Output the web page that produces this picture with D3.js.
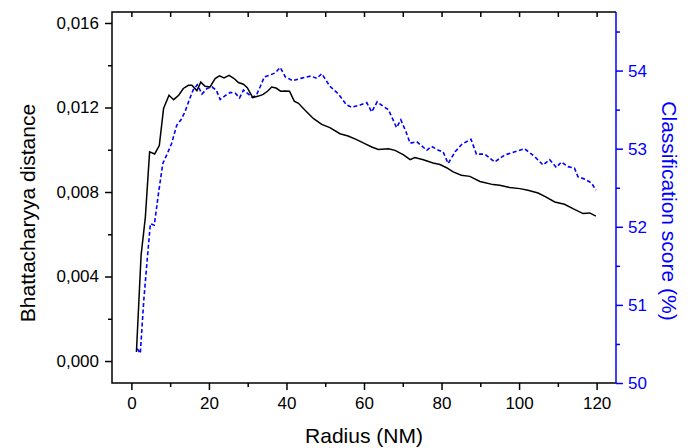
<!DOCTYPE html>
<html>
<head>
<meta charset="utf-8">
<script src="https://cdn.jsdelivr.net/npm/d3@7"></script>
<style>
  body { margin: 0; background: #fff; }
  text { font-family: "Liberation Sans", Arial, sans-serif; }
</style>
</head>
<body>
<div id="chart"></div>
<script>
// Bhattacharyya distance (left axis, black solid)
const radiusBD = [1.3, 2.5, 3.6, 4.7, 6.0, 7.2, 8.3, 9.7, 10.9, 12.2, 13.4, 14.7, 15.6, 16.9, 17.9, 19.0,
  20.3, 21.6, 22.7, 23.9, 25.2, 26.5, 27.6, 28.9, 29.9, 31.3, 32.8, 34.0, 35.1, 36.2, 37.3, 38.5,
  39.6, 40.8, 42.0, 43.1, 44.8, 47.0, 49.1, 51.2, 53.8, 55.9, 58.1, 60.2, 62.0, 63.7, 66.3, 68.0,
  70.1, 71.9, 73.1, 75.3, 77.8, 79.6, 81.3, 83.0, 85.1, 87.3, 89.9, 93.3, 95.0, 97.6, 100.2, 102.3,
  104.9, 107.0, 109.2, 111.7, 113.9, 116.5, 118.2, 119.8]
const bhattacharyya = [0.00043, 0.0050, 0.0068, 0.0099, 0.0098, 0.0102, 0.01195, 0.01258, 0.01237, 0.01258,
  0.0129, 0.01305, 0.01305, 0.0128, 0.0132, 0.0130, 0.01297, 0.01337, 0.0135, 0.0134, 0.01352, 0.01337,
  0.01318, 0.0131, 0.01294, 0.01247, 0.01254, 0.01262, 0.01277, 0.01297, 0.01292, 0.01277, 0.01278,
  0.01277, 0.0123, 0.0122, 0.01187, 0.01147, 0.0112, 0.01105, 0.01076, 0.01065, 0.01048, 0.01029,
  0.01013, 0.01001, 0.01005, 0.00997, 0.00977, 0.00953, 0.00963, 0.00953, 0.00937, 0.0093, 0.00915,
  0.00895, 0.00879, 0.00874, 0.0085, 0.00835, 0.00832, 0.00821, 0.00816, 0.00808, 0.00795, 0.00776,
  0.00753, 0.00742, 0.00721, 0.00698, 0.00701, 0.00686]

// Classification score (right axis, blue dashed)
const radiusCS = [1.5, 2.3, 3.2, 4.0, 4.9, 5.9, 7.0, 8.1, 9.3, 10.4, 11.7, 12.8, 13.8, 14.9, 15.9, 17.0,
  18.2, 19.5, 20.8, 21.9, 22.9, 24.2, 25.5, 26.8, 27.9, 28.9, 29.9, 31.1, 32.2, 33.2, 34.3, 35.6,
  37.1, 38.4, 39.7, 41.6, 43.7, 46.3, 47.8, 49.1, 51.2, 53.4, 55.5, 56.8, 59.0, 60.7, 62.0, 63.4,
  65.0, 66.3, 68.4, 69.5, 70.8, 71.9, 73.6, 76.2, 77.4, 79.2, 80.4, 81.7, 83.5, 85.3, 87.6, 89.0,
  91.2, 93.7, 96.3, 98.9, 101.4, 104.0, 106.2, 107.9, 109.6, 110.9, 112.6, 114.3, 115.2, 117.0,
  118.7, 119.8]
const classScore = [50.44, 50.38, 51.06, 51.53, 52.04, 52.02, 52.43, 52.81, 52.94, 53.07, 53.30, 53.37,
  53.47, 53.62, 53.75, 53.82, 53.70, 53.77, 53.79, 53.75, 53.63, 53.68, 53.72, 53.71, 53.65, 53.75,
  53.71, 53.66, 53.68, 53.79, 53.92, 53.94, 53.97, 54.04, 53.92, 53.87, 53.90, 53.93, 53.90, 53.96,
  53.80, 53.70, 53.56, 53.53, 53.56, 53.59, 53.47, 53.60, 53.54, 53.50, 53.27, 53.37, 53.22, 53.07,
  53.09, 52.98, 53.03, 52.98, 52.96, 52.81, 52.96, 53.06, 53.12, 52.93, 52.93, 52.83, 52.92, 52.96,
  53.00, 52.90, 52.79, 52.86, 52.76, 52.83, 52.77, 52.75, 52.64, 52.61, 52.56, 52.47]

const xTicks = [0, 20, 40, 60, 80, 100, 120]
const leftTicks = [0, 0.004, 0.008, 0.012, 0.016]
const rightTicks = [50, 51, 52, 53, 54]

const W = 699, H = 448
const LEFT = 112, RIGHT = 616, TOP = 12, BOTTOM = 383
const BLUE = "#0000ff"

const svg = d3.select("#chart").append("svg")
  .attr("width", W).attr("height", H)

const x = d3.scaleLinear().domain([-5, 125]).range([LEFT, RIGHT])
const yL = d3.scaleLinear().domain([-0.00104, 0.01652]).range([BOTTOM, TOP])
const yR = d3.scaleLinear().domain([50, 54.75]).range([BOTTOM, TOP])

const comma = d3.formatLocale({ decimal: ",", thousands: ".", grouping: [3], currency: ["", ""] })

// minor tick values
const xMinor = d3.range(-0, 125, 10).filter(v => v % 20 !== 0)
const lMinor = d3.range(0.002, 0.0161, 0.004)
const rMinor = d3.range(50.5, 54.75, 1)

function styleAxis(g, color) {
  g.select(".domain").remove()
  g.selectAll("line").attr("stroke", color).attr("stroke-width", 1.5)
  g.selectAll("text").attr("fill", color).style("font-size", "17px")
    .style("font-family", "'Liberation Sans', Arial, sans-serif")
}

// bottom axis
svg.append("g").attr("transform", `translate(0,${BOTTOM})`)
  .call(d3.axisBottom(x).tickValues(xTicks).tickSize(7).tickPadding(7).tickFormat(d3.format("d")))
  .call(g => styleAxis(g, "#000"))
svg.append("g").attr("transform", `translate(0,${BOTTOM})`)
  .call(d3.axisBottom(x).tickValues(xMinor).tickSize(4).tickFormat(""))
  .call(g => styleAxis(g, "#000"))

// top axis (inward ticks)
svg.append("g").attr("transform", `translate(0,${TOP})`)
  .call(d3.axisBottom(x).tickValues(xTicks.concat(xMinor)).tickSize(5).tickFormat(""))
  .call(g => styleAxis(g, "#000"))

// left axis
svg.append("g").attr("transform", `translate(${LEFT},0)`)
  .call(d3.axisLeft(yL).tickValues(leftTicks).tickSize(7).tickPadding(6).tickFormat(comma.format(".3f")))
  .call(g => styleAxis(g, "#000"))
svg.append("g").attr("transform", `translate(${LEFT},0)`)
  .call(d3.axisLeft(yL).tickValues(lMinor).tickSize(4).tickFormat(""))
  .call(g => styleAxis(g, "#000"))

// right axis
svg.append("g").attr("transform", `translate(${RIGHT},0)`)
  .call(d3.axisRight(yR).tickValues(rightTicks).tickSize(7).tickPadding(5).tickFormat(d3.format("d")))
  .call(g => styleAxis(g, BLUE))
svg.append("g").attr("transform", `translate(${RIGHT},0)`)
  .call(d3.axisRight(yR).tickValues(rMinor).tickSize(4).tickFormat(""))
  .call(g => styleAxis(g, BLUE))

// frame
svg.append("path")
  .attr("d", `M${RIGHT},${TOP}H${LEFT}V${BOTTOM}H${RIGHT}`)
  .attr("fill", "none").attr("stroke", "#000").attr("stroke-width", 1.5)
svg.append("line")
  .attr("x1", RIGHT).attr("x2", RIGHT).attr("y1", TOP).attr("y2", BOTTOM)
  .attr("stroke", BLUE).attr("stroke-width", 1.5)

// lines
const bdData = radiusBD.map((r, i) => ({ r: r, v: bhattacharyya[i] }))
const csData = radiusCS.map((r, i) => ({ r: r, v: classScore[i] }))

svg.append("path")
  .attr("fill", "none").attr("stroke", BLUE).attr("stroke-width", 1.6)
  .attr("stroke-dasharray", "4,2.5")
  .attr("d", d3.line().x(d => x(d.r)).y(d => yR(d.v))(csData))

svg.append("path")
  .attr("fill", "none").attr("stroke", "#000").attr("stroke-width", 1.5)
  .attr("d", d3.line().x(d => x(d.r)).y(d => yL(d.v))(bdData))

// axis titles
svg.append("text")
  .attr("transform", `translate(35,213) rotate(-90)`)
  .attr("text-anchor", "middle").style("font-size", "21px").attr("fill", "#000")
  .text("Bhattacharyya distance")

svg.append("text")
  .attr("transform", `translate(662,211) rotate(90)`)
  .attr("text-anchor", "middle").style("font-size", "21px").attr("fill", BLUE)
  .text("Classification score (%)")

svg.append("text")
  .attr("x", (LEFT + RIGHT) / 2).attr("y", 443)
  .attr("text-anchor", "middle").style("font-size", "21px").attr("fill", "#000")
  .text("Radius (NM)")
</script>
</body>
</html>
